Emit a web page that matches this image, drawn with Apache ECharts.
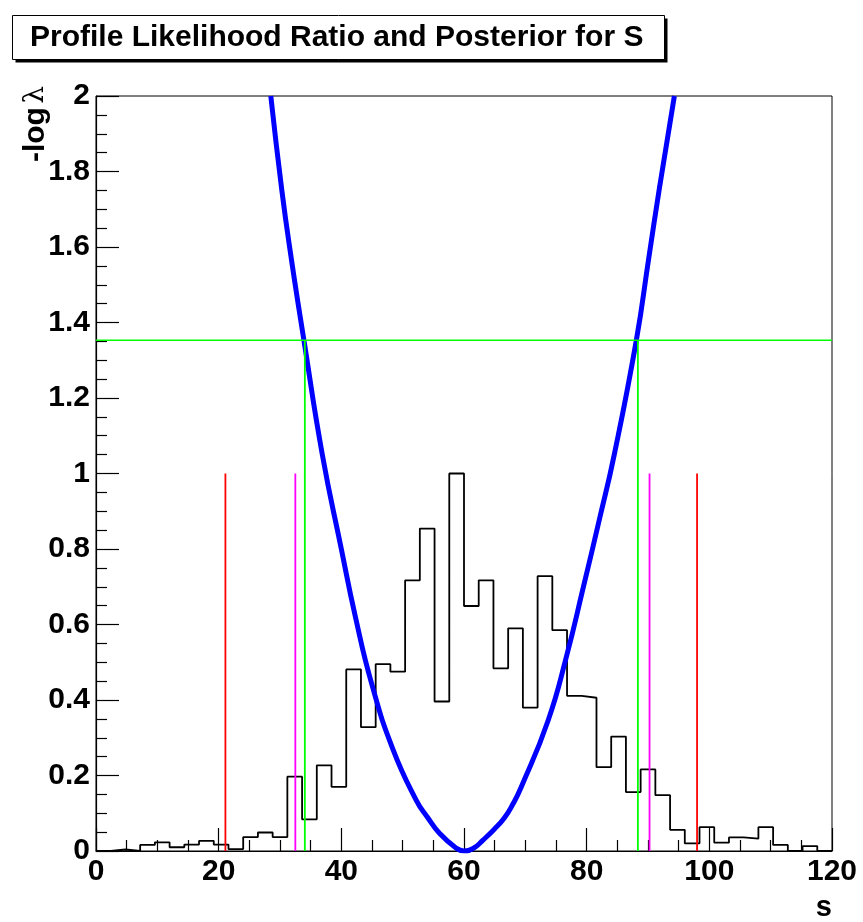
<!DOCTYPE html>
<html>
<head>
<meta charset="utf-8">
<script src="https://cdn.jsdelivr.net/npm/echarts@6/dist/echarts.min.js"></script>
<style>
html,body{margin:0;padding:0;background:#fff;}
#chart{width:863px;height:922px;}
</style>
</head>
<body>
<div id="chart"></div>
<script>
// ---- data ----
const titleText = 'Profile Likelihood Ratio and Posterior for S';
const xName = 's';
const yNameMain = '-log';
const yNameSymbol = '\u03bb';
const binWidth = 2.4;
const binEdgesStart = 0;
// posterior histogram (normalised), 50 bins of width 2.4 from 0 to 120
const posterior = [
  0, 0.004, 0, 0.016, 0.023, 0.010, 0.017, 0.027, 0.017, 0.005,
  0.037, 0.049, 0.037, 0.197, 0.084, 0.227, 0.170, 0.481, 0.328, 0.495,
  0.475, 0.717, 0.854, 0.396, 1.000, 0.649, 0.717, 0.484, 0.590, 0.380,
  0.728, 0.585, 0.411, 0.406, 0.222, 0.303, 0.156, 0.216, 0.148, 0.056,
  0.020, 0.063, 0.022, 0.036, 0.033, 0.063, 0.016, 0, 0.013, 0
];
// profile likelihood ratio curve points [s, -log lambda]
const profileS = [28.5, 30.3, 31.8, 33.9, 36.9, 40.0, 42.3, 45.0, 48.4, 52.2, 54.1, 56.0, 58.7, 60.0, 61.6, 63.1, 64.9, 66.6, 68.0, 69.3, 73.7, 76.7, 79.4, 82.1, 84.5, 88.1, 90.1, 91.9, 94.3];
const profileNLL = [2.0, 1.75, 1.574, 1.353, 1.05, 0.80, 0.62, 0.44, 0.27, 0.135, 0.088, 0.047, 0.008, 0.0, 0.008, 0.029, 0.057, 0.088, 0.125, 0.168, 0.345, 0.515, 0.695, 0.880, 1.05, 1.353, 1.568, 1.76, 2.0];
// interval lines
const plrLevel = 1.353;
const plrInterval = [34.05, 88.35];   // green
const mcmcInterval = [32.5, 90.25];   // magenta
const mcmcWide = [21.1, 98.0];        // red
const markerHeight = 1.0;
const xTicks = {min: 0, max: 120, interval: 20};
const yTicks = {min: 0, max: 2, interval: 0.2};

// ---- build series ----
const histData = posterior.map((v, i) => [binEdgesStart + i * binWidth, v]);
histData.push([binEdgesStart + posterior.length * binWidth, posterior[posterior.length - 1]]);
const curveData = profileS.map((s, i) => [s, profileNLL[i]]);

function vline(x, h, color) {
  return {type: 'line', data: [[x, 0], [x, h]], symbol: 'none', silent: true,
    lineStyle: {color: color, width: 1.8}, z: 5, animation: false};
}

const font = '"Liberation Sans", Arial, Helvetica, sans-serif';
const chart = echarts.init(document.getElementById('chart'), null, {renderer: 'canvas'});
chart.setOption({
  animation: false,
  backgroundColor: '#fff',
  title: {
    text: titleText,
    left: 12, top: 15,
    padding: [6, 20, 5, 18],
    textStyle: {fontFamily: font, fontWeight: 'bold', fontSize: 30, color: '#000', lineHeight: 33}
  },
  grid: {left: 96, right: 31, top: 96, bottom: 71, show: true, borderColor: '#000', borderWidth: 1, backgroundColor: 'transparent'},
  xAxis: {
    type: 'value', min: xTicks.min, max: xTicks.max, interval: xTicks.interval,
    axisLine: {lineStyle: {color: '#000', width: 1.2}},
    axisTick: {inside: true, length: 23, lineStyle: {color: '#000', width: 1.2}},
    minorTick: {show: true, splitNumber: 4, length: 11, lineStyle: {color: '#000', width: 1.2}},
    splitLine: {show: false},
    axisLabel: {color: '#000', fontFamily: font, fontWeight: 'bold', fontSize: 30, margin: 6}
  },
  yAxis: {
    type: 'value', min: yTicks.min, max: yTicks.max, interval: yTicks.interval,
    axisLine: {show: true, lineStyle: {color: '#000', width: 1.2}},
    axisTick: {show: true, inside: true, length: 23, lineStyle: {color: '#000', width: 1.2}},
    minorTick: {show: true, splitNumber: 4, length: 11, lineStyle: {color: '#000', width: 1.2}},
    splitLine: {show: false},
    axisLabel: {color: '#000', fontFamily: font, fontWeight: 'bold', fontSize: 30, margin: 6}
  },
  graphic: [
    {type: 'rect', z: -10, shape: {x: 15.5, y: 18.5, width: 652, height: 44}, style: {fill: '#000'}},
    {type: 'rect', z: -9, shape: {x: 12.5, y: 15.5, width: 652, height: 44}, style: {fill: '#fff', stroke: '#000', lineWidth: 1}},
    {type: 'text', x: 36, y: 86, rotation: Math.PI / 2,
      style: {text: '{a|' + yNameMain + '} {b|' + yNameSymbol + '}', textAlign: 'right', textVerticalAlign: 'middle', fill: '#000',
        rich: {
          a: {fontFamily: font, fontWeight: 'bold', fontSize: 30, fill: '#000'},
          b: {fontFamily: '"DejaVu Serif", "Liberation Serif", serif', fontWeight: 'normal', fontSize: 28, fill: '#000'}
        }}},
    {type: 'text', x: 832, y: 908,
      style: {text: xName, textAlign: 'right', textVerticalAlign: 'middle', fill: '#000',
        font: 'bold 29px ' + font}}
  ],
  series: [
    {type: 'line', name: 'posterior', data: histData, step: 'end', symbol: 'none',
      lineStyle: {color: '#000', width: 1.8}, z: 2, silent: true},
    {type: 'line', name: 'profile', data: curveData, smooth: 0.5, symbol: 'none',
      lineStyle: {color: '#0000ff', width: 5}, z: 3, silent: true, clip: true},
    {type: 'line', data: [[xTicks.min, plrLevel], [xTicks.max, plrLevel]], symbol: 'none', silent: true,
      lineStyle: {color: '#00ff00', width: 1.5}, z: 5},
    vline(plrInterval[0], plrLevel, '#00ff00'),
    vline(plrInterval[1], plrLevel, '#00ff00'),
    vline(mcmcInterval[0], markerHeight, '#ff00ff'),
    vline(mcmcInterval[1], markerHeight, '#ff00ff'),
    vline(mcmcWide[0], markerHeight, '#ff0000'),
    vline(mcmcWide[1], markerHeight, '#ff0000')
  ]
});
</script>
</body>
</html>
